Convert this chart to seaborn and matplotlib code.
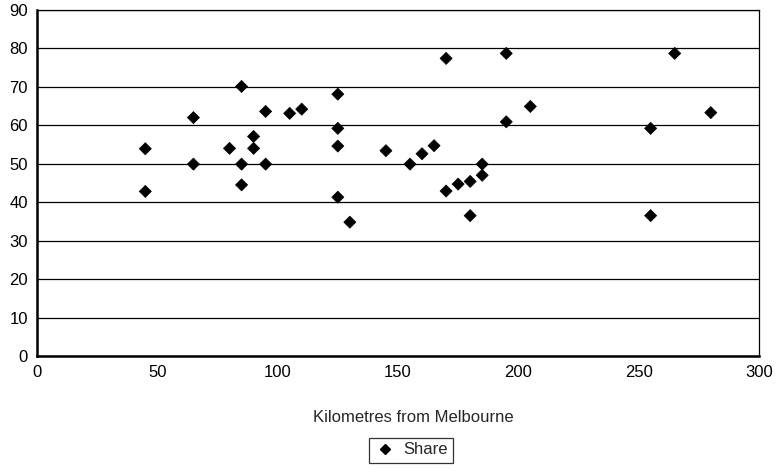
import matplotlib
matplotlib.use("Agg")
import matplotlib.pyplot as plt
import seaborn as sns
import pandas as pd

# Distance from Melbourne (km) and share (%) for each location
km = [45, 45, 65, 65, 80, 85, 85, 85, 90, 90, 95, 95, 105, 110,
      125, 125, 125, 125, 130, 145, 155, 160, 165, 170, 170, 175,
      180, 180, 185, 185, 195, 195, 205, 255, 255, 265, 280]
share = [53.9, 42.8, 62.0, 49.9, 54.0, 70.1, 49.9, 44.5, 57.1, 54.0, 63.6, 49.9, 63.1, 64.2,
         68.1, 59.2, 54.6, 41.3, 34.8, 53.4, 49.9, 52.6, 54.7, 77.4, 42.9, 44.7,
         45.4, 36.5, 49.9, 47.0, 78.7, 60.9, 64.9, 59.2, 36.5, 78.7, 63.3]
series_name = "Share"
x_ticks = [0, 50, 100, 150, 200, 250, 300]
y_ticks = [0, 10, 20, 30, 40, 50, 60, 70, 80, 90]

df = pd.DataFrame({"km": km, "share": share, "series": series_name})

sns.set_style("white")
plt.rcParams["font.family"] = ["Liberation Sans", "DejaVu Sans"]

fig = plt.figure(figsize=(7.76, 4.74), dpi=100)
ax = fig.add_axes([0.0477, 0.249, 0.978 - 0.0477, 0.979 - 0.249])

sns.scatterplot(data=df, x="km", y="share", hue="series", palette=["black"],
                marker="D", s=38, edgecolor="black", linewidth=0.5, ax=ax,
                zorder=3, legend=False)

ax.set_xlim(0, 300)
ax.set_ylim(0, 90)
ax.set_xticks(x_ticks)
ax.set_yticks(y_ticks)
ax.tick_params(axis="both", labelsize=12, colors="black", direction="out",
               length=4, width=1, pad=2.5)
ax.yaxis.grid(True, color="black", linewidth=0.9)
ax.set_axisbelow(True)
for side in ["top", "right"]:
    ax.spines[side].set_color("black")
    ax.spines[side].set_linewidth(0.9)
for side in ["left", "bottom"]:
    ax.spines[side].set_color("black")
    ax.spines[side].set_linewidth(1.8)

ax.set_xlabel("")
ax.set_ylabel("")
fig.text(0.532, 1 - 417 / 474, "Kilometres from Melbourne", ha="center",
         va="center", fontsize=12)

handle = plt.Line2D([], [], marker="D", color="black", linestyle="none",
                    markersize=5.5)
leg = fig.legend([handle], [series_name], loc="center",
                 bbox_to_anchor=(411 / 776, 1 - 450 / 474), frameon=True,
                 fancybox=False, edgecolor="black", fontsize=12,
                 handletextpad=0.5, borderpad=0.3, handlelength=1.3,
                 borderaxespad=0)
leg.get_frame().set_linewidth(0.9)

fig.savefig("out.png", dpi=100)
